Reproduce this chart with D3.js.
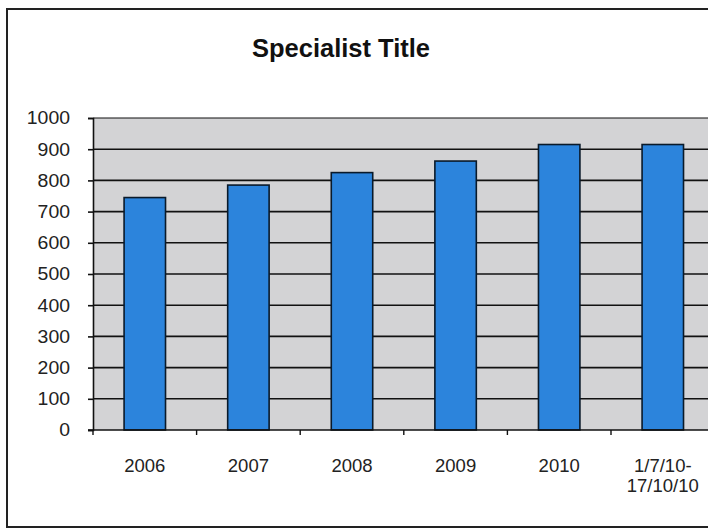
<!DOCTYPE html>
<html><head><meta charset="utf-8">
<script src="https://cdn.jsdelivr.net/npm/d3@7"></script>
<style>body{margin:0;background:#fff;} svg{display:block;}</style>
</head><body>
<script>
const categories = ["2006","2007","2008","2009","2010","1/7/10-\n17/10/10"];
const values = [745, 785, 825, 862, 915, 915];
const yTicks = [0,100,200,300,400,500,600,700,800,900,1000];
const title = "Specialist Title";

const W = 708, H = 531;
const FONT = "Arial, 'Liberation Sans', sans-serif";
const svg = d3.select("body").append("svg").attr("width", W).attr("height", H);
svg.append("rect").attr("width", W).attr("height", H).attr("fill", "#fff");

// outer frame
svg.append("rect").attr("x", 7).attr("y", 9).attr("width", 760).attr("height", 518)
  .attr("fill", "none").attr("stroke", "#222").attr("stroke-width", 2);

const pLeft = 93, pTop = 118, pBottom = 430, pRight = 93 + 6 * 103.6;
const x = d3.scaleBand().domain(categories).range([pLeft, pRight]).paddingInner(0.6).paddingOuter(0.3);
const y = d3.scaleLinear().domain([0, 1000]).range([pBottom, pTop]);

// plot area
svg.append("rect").attr("x", pLeft).attr("y", pTop).attr("width", pRight - pLeft).attr("height", pBottom - pTop)
  .attr("fill", "#d3d3d5");

// gridlines
svg.append("g").selectAll("line").data(yTicks.filter(d => d > 0)).join("line")
  .attr("x1", pLeft).attr("x2", pRight).attr("y1", d => y(d)).attr("y2", d => y(d))
  .attr("stroke", "#111").attr("stroke-width", d => d === 1000 ? 1.2 : 1.6);

// y axis
const yAxis = d3.axisLeft(y).tickValues(yTicks).tickSize(5).tickPadding(18).tickFormat(d3.format("d"));
const gy = svg.append("g").attr("transform", `translate(${pLeft},0)`).call(yAxis);
gy.select(".domain").attr("stroke", "#111").attr("stroke-width", 1.6);
gy.selectAll(".tick line").attr("stroke", "#111").attr("stroke-width", 1.6);
gy.selectAll("text").attr("font-family", FONT).attr("font-size", 18.5).attr("fill", "#222")
  .attr("transform", "scale(1.05,1)").attr("x", -23 / 1.05);

// bars
svg.append("g").selectAll("rect").data(values).join("rect")
  .attr("x", (d, i) => x(categories[i])).attr("width", x.bandwidth())
  .attr("y", d => y(d)).attr("height", d => y(0) - y(d))
  .attr("fill", "#2c84dc").attr("stroke", "#0a1a2a").attr("stroke-width", 1.6);

// x axis line and boundary ticks
svg.append("line").attr("x1", pLeft - 5).attr("x2", pRight).attr("y1", pBottom).attr("y2", pBottom)
  .attr("stroke", "#111").attr("stroke-width", 1.6);
const step = x.step();
svg.append("g").selectAll("line").data(categories).join("line")
  .attr("x1", (d, i) => pLeft + i * step).attr("x2", (d, i) => pLeft + i * step)
  .attr("y1", pBottom).attr("y2", pBottom + 5).attr("stroke", "#111").attr("stroke-width", 1.4);

// x labels
svg.append("g").selectAll("text").data(categories).join("text")
  .attr("x", d => x(d) + x.bandwidth() / 2).attr("y", 472)
  .attr("text-anchor", "middle").attr("font-family", FONT)
  .attr("font-size", 18.5).attr("fill", "#222")
  .each(function(d) {
    const lines = d.split("\n");
    d3.select(this).selectAll("tspan").data(lines).join("tspan")
      .attr("x", x(d) + x.bandwidth() / 2).attr("dy", (l, i) => i === 0 ? 0 : 20).text(l => l);
  });

// title
svg.append("text").attr("x", 341).attr("y", 57).attr("text-anchor", "middle")
  .attr("font-family", FONT).attr("font-weight", "bold")
  .attr("font-size", 25.5).attr("fill", "#111").text(title);
</script>
</body></html>
